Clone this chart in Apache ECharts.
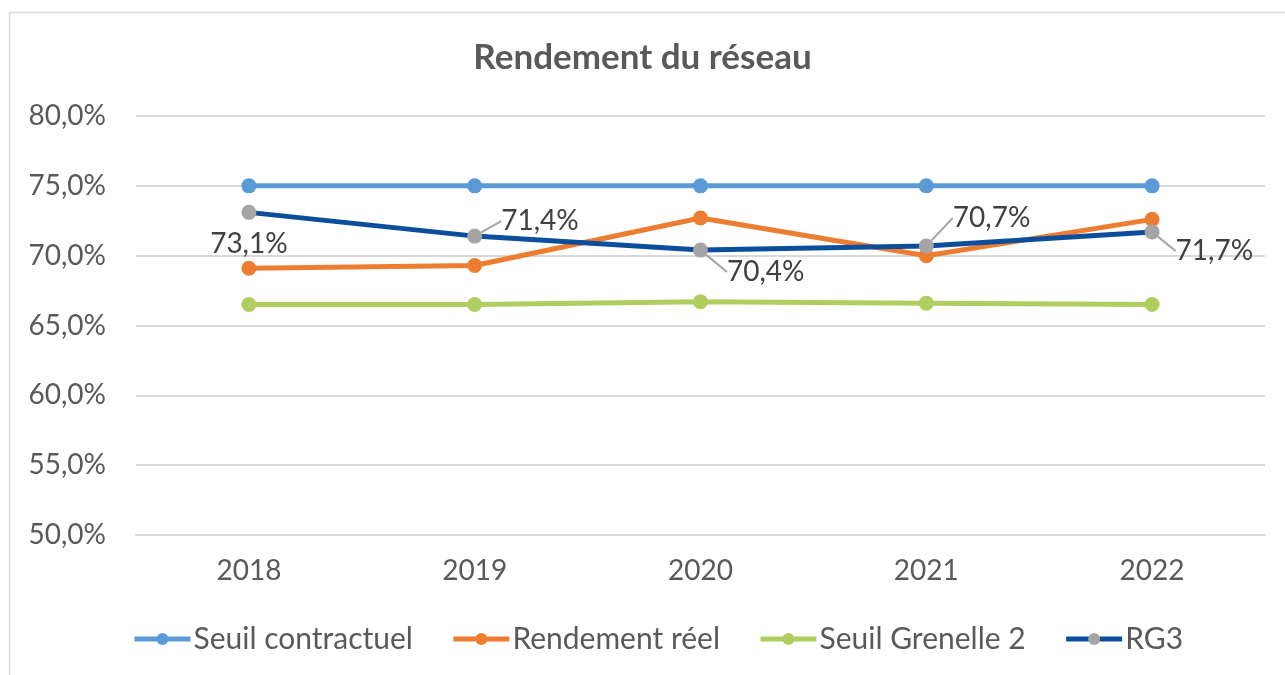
<!DOCTYPE html>
<html lang="fr">
<head>
<meta charset="UTF-8" />
<title>Rendement du réseau</title>
<script src="https://cdn.jsdelivr.net/npm/echarts@6/dist/echarts.min.js"></script>
<style>
  html, body { margin: 0; padding: 0; background: #fff; }
  #chart { width: 1285px; height: 675px; }
</style>
</head>
<body>
<div id="chart"></div>
<script>
const years = ["2018", "2019", "2020", "2021", "2022"];
const seuilContractuel = [75.0, 75.0, 75.0, 75.0, 75.0];
const rendementReel = [69.1, 69.3, 72.7, 70.0, 72.6];
const seuilGrenelle = [66.5, 66.5, 66.7, 66.6, 66.5];
const rg3 = [73.1, 71.4, 70.4, 70.7, 71.7];

// label offsets for RG3 (dx, dy), first one sits under the point
const rg3LabelShift = [[0, 0], [14, -15], [14, 22], [14, -28], [11, 19]];

const font = "Lato, 'Liberation Sans', sans-serif";
const pct = (v) => v.toFixed(1).replace(".", ",") + "%";

const chart = echarts.init(document.getElementById("chart"));

function lineSeries(name, data, color, symbolColor) {
  return {
    name: name,
    type: "line",
    data: data,
    symbol: "circle",
    symbolSize: 15,
    lineStyle: { color: color, width: 5 },
    itemStyle: { color: symbolColor || color },
    emphasis: { disabled: true },
    animation: false
  };
}

const rgSeries = lineSeries("RG3", rg3, "#0B4F9C", "#A5A5A5");
rgSeries.z = 5;
rgSeries.label = {
  show: true,
  position: "right",
  distance: 5,
  fontFamily: font,
  fontSize: 28,
  color: "#404040",
  formatter: (p) => pct(p.value)
};
rgSeries.data = rg3.map((v, i) =>
  i === 0
    ? { value: v, label: { position: "bottom", distance: 10 }, labelLine: { show: false } }
    : v
);
rgSeries.labelLine = { show: true, lineStyle: { color: "#A5A5A5", width: 2 } };
rgSeries.labelLayout = (p) => {
  const s = rg3LabelShift[p.dataIndex];
  return { dx: s[0], dy: s[1] };
};

chart.setOption({
  backgroundColor: "#fff",
  title: {
    text: "Rendement du réseau",
    left: "center",
    top: 35,
    textStyle: { fontFamily: font, fontSize: 35, fontWeight: "bold", color: "#595959" }
  },
  graphic: [{
    type: "rect",
    shape: { x: 9.5, y: 12.5, width: 1400, height: 800 },
    style: { fill: "none", stroke: "#D9D9D9", lineWidth: 1.5 },
    silent: true
  }],
  grid: { left: 136, right: 20, top: 116, bottom: 140 },
  xAxis: {
    type: "category",
    data: years,
    boundaryGap: true,
    axisLine: { show: true, lineStyle: { color: "#D9D9D9", width: 2 } },
    axisTick: { show: false },
    axisLabel: { fontFamily: font, fontSize: 28, color: "#595959", margin: 22 }
  },
  yAxis: {
    type: "value",
    min: 50,
    max: 80,
    interval: 5,
    axisLine: { show: false },
    axisTick: { show: false },
    splitLine: { lineStyle: { color: "#D9D9D9", width: 2 } },
    axisLabel: { fontFamily: font, fontSize: 28, color: "#595959", margin: 30, formatter: pct }
  },
  legend: {
    bottom: 16,
    left: 127,
    itemWidth: 56,
    itemHeight: 15,
    itemGap: 38,
    lineStyle: { width: 5 },
    textStyle: { fontFamily: font, fontSize: 30, color: "#595959", padding: [0, 0, 0, -2] },
    data: ["Seuil contractuel", "Rendement réel", "Seuil Grenelle 2", "RG3"]
  },
  series: [
    lineSeries("Seuil contractuel", seuilContractuel, "#5B9BD5"),
    lineSeries("Rendement réel", rendementReel, "#ED7D31"),
    lineSeries("Seuil Grenelle 2", seuilGrenelle, "#B0CD5F"),
    rgSeries
  ]
});
</script>
</body>
</html>
